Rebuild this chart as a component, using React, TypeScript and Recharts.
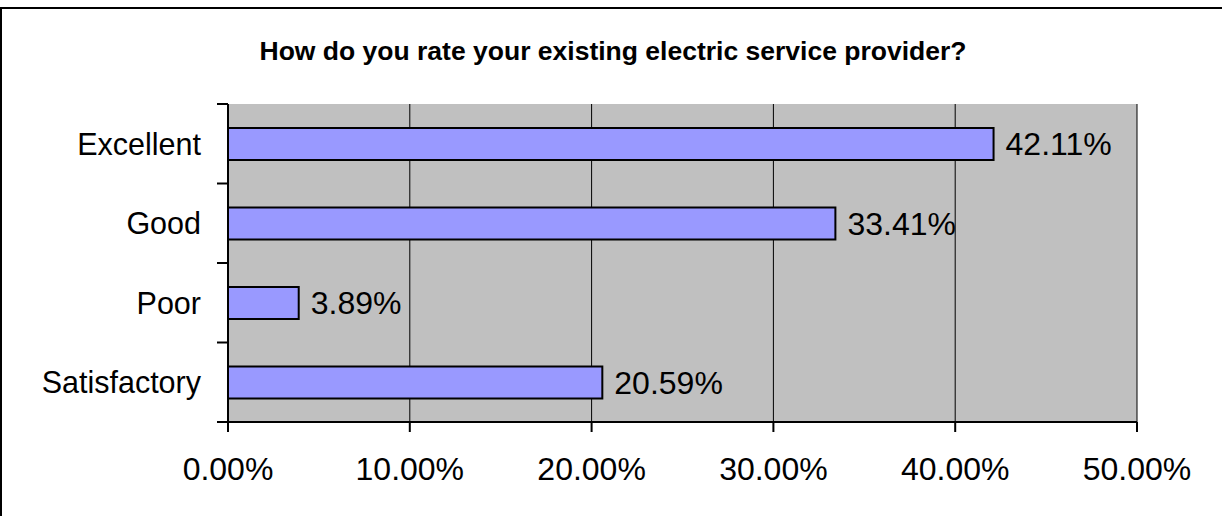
import { Bar, BarChart, CartesianGrid, LabelList, XAxis, YAxis } from "recharts"

const categories = ["Excellent", "Good", "Poor", "Satisfactory"]
const shares = [42.11, 33.41, 3.89, 20.59]
const xTicks = [0, 10, 20, 30, 40, 50]

const data = categories.map((name, i) => ({ name, share: shares[i] }))

const W = 1222
const H = 516
const TOP = 104
const RIGHT = 85
const YAXIS_W = 228
const XAXIS_H = 94
const BAND = (H - TOP - XAXIS_H) / categories.length
const FONT = "'Liberation Sans', Arial, sans-serif"

const pct = (v: number) => `${Number(v).toFixed(2)}%`

// category label plus Excel-style tick marks between the bands
function CategoryTick(props: any) {
  const { y, payload, index } = props
  const ax = YAXIS_W
  return (
    <g>
      <line x1={ax - 11} x2={ax} y1={y - BAND / 2} y2={y - BAND / 2} stroke="#000" strokeWidth={2} />
      {index === categories.length - 1 && (
        <line x1={ax - 11} x2={ax} y1={y + BAND / 2} y2={y + BAND / 2} stroke="#000" strokeWidth={2} />
      )}
      <text x={ax - 27} y={y} dy="0.355em" textAnchor="end" fontSize={30.5} fill="#000" fontFamily={FONT}>
        {payload.value}
      </text>
    </g>
  )
}

export default function App() {
  return (
    <div style={{ position: "absolute", left: 0, top: 0, width: W, height: H, overflow: "hidden", background: "#fff" }}>
      <div
        style={{
          position: "absolute",
          left: 0,
          top: 7,
          width: W,
          height: H,
          borderTop: "2px solid #000",
          borderLeft: "2px solid #000",
          boxSizing: "border-box",
        }}
      />
      <div
        style={{
          position: "absolute",
          left: 2,
          top: 38,
          width: W,
          textAlign: "center",
          fontFamily: FONT,
          fontWeight: "bold",
          fontSize: 26.5,
          lineHeight: "26px",
          color: "#000",
        }}
      >
        How do you rate your existing electric service provider?
      </div>
      <div style={{ position: "absolute", left: 0, top: 0 }}>
        <BarChart
          width={W}
          height={H}
          data={data}
          layout="vertical"
          margin={{ top: TOP, right: RIGHT, left: 0, bottom: 0 }}
        >
          <CartesianGrid fill="#C0C0C0" fillOpacity={1} stroke="#000" strokeWidth={1} horizontal={false} />
          <XAxis
            xAxisId="top"
            orientation="top"
            type="number"
            domain={[0, 50]}
            height={0}
            tick={false}
            tickLine={false}
            axisLine={{ stroke: "#808080", strokeWidth: 2 }}
          />
          <YAxis
            yAxisId="right"
            orientation="right"
            type="number"
            domain={[0, 1]}
            width={0}
            tick={false}
            tickLine={false}
            axisLine={{ stroke: "#808080", strokeWidth: 2 }}
          />
          <Bar dataKey="share" fill="#9999FF" stroke="#000" strokeWidth={2} barSize={32} isAnimationActive={false}>
            <LabelList
              dataKey="share"
              position="right"
              offset={12}
              formatter={(v: any) => pct(v)}
              fontSize={32}
              fill="#000"
              fontFamily={FONT}
            />
          </Bar>
          <XAxis
            type="number"
            dataKey="share"
            domain={[0, 50]}
            ticks={xTicks}
            tickFormatter={pct}
            height={XAXIS_H}
            tickSize={10}
            tickMargin={25}
            interval={0}
            axisLine={{ stroke: "#000", strokeWidth: 2 }}
            tickLine={{ stroke: "#000", strokeWidth: 2 }}
            tick={{ fontSize: 32, fill: "#000", fontFamily: FONT }}
          />
          <YAxis
            type="category"
            dataKey="name"
            width={YAXIS_W}
            tickLine={false}
            axisLine={{ stroke: "#000", strokeWidth: 2 }}
            tick={<CategoryTick />}
            interval={0}
          />
        </BarChart>
      </div>
    </div>
  )
}
